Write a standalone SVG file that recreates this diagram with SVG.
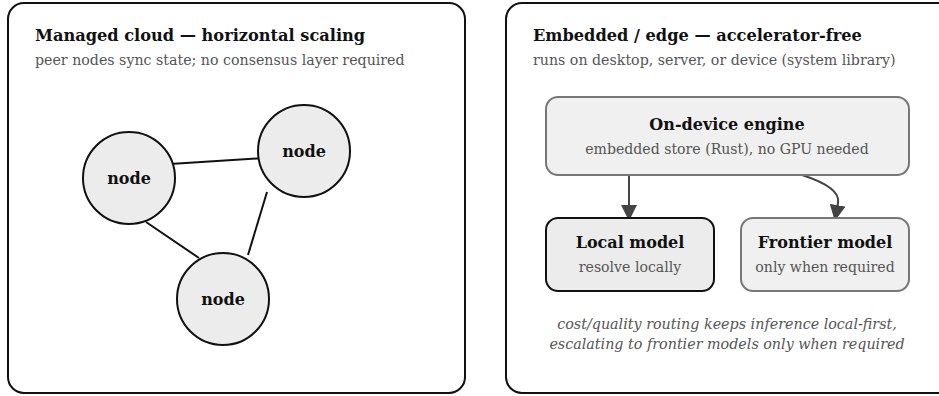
<svg xmlns="http://www.w3.org/2000/svg" width="939" height="396" viewBox="0 0 939 396">
  <style>
    .panel { fill: #ffffff; stroke: #111111; stroke-width: 2; }
    .title { font-family: "DejaVu Serif", serif; font-weight: bold; font-size: 16.2px; fill: #111111; }
    .sub { font-family: "DejaVu Serif", serif; font-size: 14.2px; fill: #555555; }
    .peer { fill: #ececec; stroke: #111111; stroke-width: 2; }
    .peer-label { font-family: "DejaVu Serif", serif; font-weight: bold; font-size: 16px; fill: #111111; text-anchor: middle; }
    .link { stroke: #111111; stroke-width: 2; fill: none; }
    .box { fill: #f0f0f0; stroke: #777777; stroke-width: 2; }
    .box-local { fill: #ececec; stroke: #111111; stroke-width: 2; }
    .box-title { font-family: "DejaVu Serif", serif; font-weight: bold; font-size: 16px; fill: #111111; text-anchor: middle; }
    .box-sub { font-family: "DejaVu Serif", serif; font-size: 14.1px; fill: #555555; text-anchor: middle; }
    .flow { stroke: #444444; stroke-width: 2; fill: none; }
    .note { font-family: "DejaVu Serif", serif; font-style: italic; font-size: 14.3px; fill: #555555; text-anchor: middle; }
  </style>
  <defs>
    <marker id="arrow" viewBox="0 0 16 16" refX="15" refY="8" markerWidth="16" markerHeight="16" markerUnits="userSpaceOnUse" orient="auto">
      <path d="M0,0 L16,8 L0,16 Z" fill="#444444"/>
    </marker>
  </defs>

  <!-- Left panel: managed cloud -->
  <g id="panel-cloud">
    <rect class="panel" x="8" y="3" width="457" height="390" rx="16"/>
    <text class="title" x="35" y="41">Managed cloud — horizontal scaling</text>
    <text class="sub" x="35" y="65">peer nodes sync state; no consensus layer required</text>
  </g>

  <!-- Right panel: embedded / edge -->
  <g id="panel-edge">
    <rect class="panel" x="506" y="3" width="450" height="390" rx="16"/>
    <text class="title" x="533" y="41">Embedded / edge — accelerator-free</text>
    <text class="sub" x="533" y="65">runs on desktop, server, or device (system library)</text>
  </g>

  <!-- Connectors -->
  <g id="connectors">
    <line class="link" x1="170" y1="164" x2="264" y2="158"/>
    <line class="link" x1="146" y1="222" x2="199" y2="258"/>
    <line class="link" x1="267" y1="192" x2="248" y2="255"/>
    <path class="flow" d="M629,175 L629,220" marker-end="url(#arrow)"/>
    <path class="flow" d="M802,175 C830,184 840,193 838,203 L835,220" marker-end="url(#arrow)"/>
  </g>

  <g id="node-a">
    <circle class="peer" cx="129" cy="178" r="46"/>
    <text class="peer-label" x="129" y="184">node</text>
  </g>
  <g id="node-b">
    <circle class="peer" cx="304" cy="151" r="46"/>
    <text class="peer-label" x="304" y="157">node</text>
  </g>
  <g id="node-c">
    <circle class="peer" cx="223" cy="299" r="46"/>
    <text class="peer-label" x="223" y="305">node</text>
  </g>

  <g id="engine">
    <rect class="box" x="546" y="97" width="363" height="78" rx="12"/>
    <text class="box-title" x="727" y="130">On-device engine</text>
    <text class="box-sub" x="727" y="154">embedded store (Rust), no GPU needed</text>
  </g>

  <g id="local-model">
    <rect class="box-local" x="546" y="218" width="168" height="73" rx="12"/>
    <text class="box-title" x="630" y="248">Local model</text>
    <text class="box-sub" x="630" y="272">resolve locally</text>
  </g>

  <g id="frontier-model">
    <rect class="box" x="741" y="218" width="168" height="73" rx="12"/>
    <text class="box-title" x="825" y="248">Frontier model</text>
    <text class="box-sub" x="825" y="272">only when required</text>
  </g>

  <g id="routing-note">
    <text class="note" x="727" y="329">cost/quality routing keeps inference local-first,</text>
    <text class="note" x="727" y="349">escalating to frontier models only when required</text>
  </g>
</svg>
